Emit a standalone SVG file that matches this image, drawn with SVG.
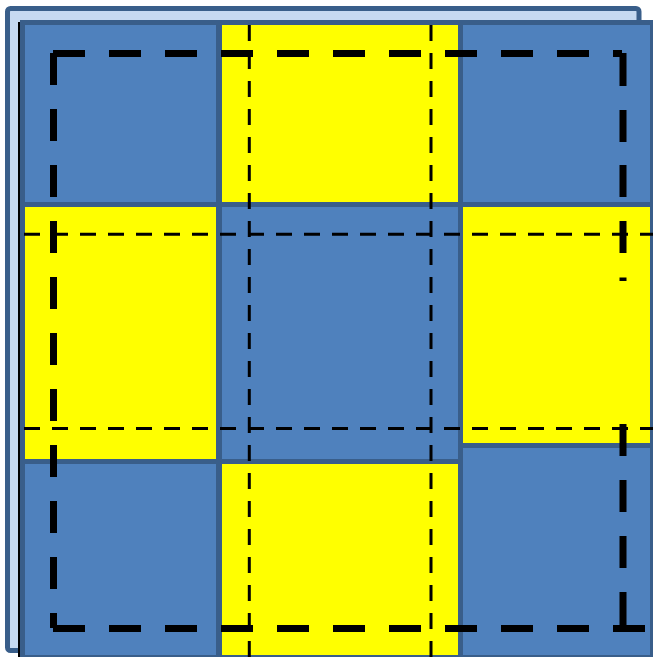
<svg xmlns="http://www.w3.org/2000/svg" width="653" height="657" viewBox="0 0 653 657">
<defs>
<style>
.bl{fill:#4f81bd}
.ye{fill:#ffff00}
.thick{stroke:#000;stroke-width:7;fill:none;stroke-dasharray:32 24}
.thickseg{stroke:#000;stroke-width:7;fill:none}
.thin{stroke:#000;stroke-width:3;fill:none;stroke-dasharray:16 12}
</style>
</defs>
<rect id="backdrop" x="7.5" y="8.5" width="631.5" height="642" rx="3" fill="#c6d9f1" stroke="#395e8a" stroke-width="5"/>
<rect id="grid-frame" x="20" y="20" width="633" height="637" fill="#395e8a"/>
<line x1="19" y1="22" x2="19" y2="657" stroke="#000" stroke-width="2"/>
<g id="cell-r1c1"><rect class="bl" x="25" y="25" width="191" height="177"/></g>
<g id="cell-r1c2"><rect class="ye" x="222" y="25" width="236" height="177"/></g>
<g id="cell-r1c3"><rect class="bl" x="463" y="25" width="187" height="177"/></g>
<g id="cell-r2c1"><rect class="ye" x="25" y="207" width="191" height="252"/></g>
<g id="cell-r2c2"><rect class="bl" x="222" y="207" width="236" height="252"/></g>
<g id="cell-r2c3"><rect class="ye" x="463" y="207" width="187" height="236"/></g>
<g id="cell-r3c1"><rect class="bl" x="25" y="464" width="191" height="191"/></g>
<g id="cell-r3c2"><rect class="ye" x="222" y="464" width="236" height="191"/></g>
<g id="cell-r3c3"><rect class="bl" x="463" y="448" width="187" height="207"/></g>
<g id="connectors">
<path class="thick" d="M53,53.5 H622"/>
<path class="thick" d="M53.5,53 V628"/>
<path class="thick" d="M53,628.5 H645"/>
<path class="thickseg" d="M623,53 V86 M623,110 V142 M623,165 V197 M623,221 V253 M623,277.5 V281 M623,424 V456 M623,480 V512 M623,536 V568 M623,592 V628"/>
<path class="thin" d="M24,234.3 H653"/>
<path class="thin" d="M24,428.6 H653"/>
<path class="thin" d="M249.3,25 V657"/>
<path class="thin" d="M431,25 V657"/>
</g>
</svg>
